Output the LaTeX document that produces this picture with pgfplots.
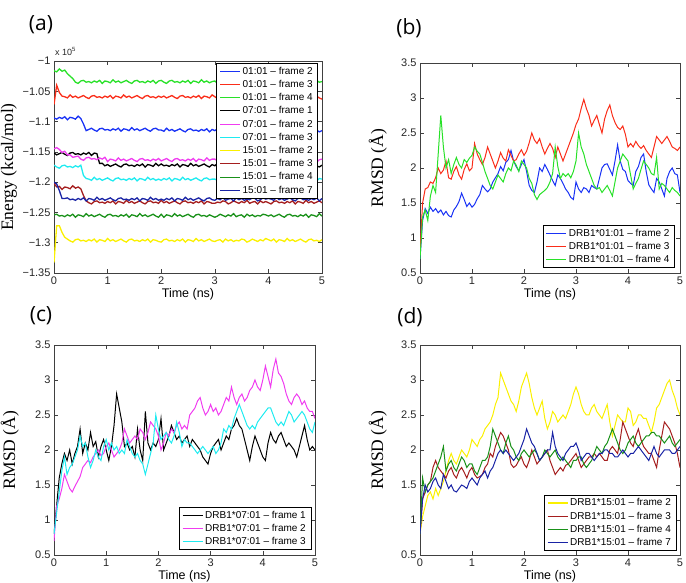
\documentclass[border=0pt]{standalone}
\usepackage{fontspec}
\setmainfont{Liberation Sans}
\newfontfamily\serifff{Liberation Serif}
\newfontfamily\panelfont{Open Sans}
\usepackage{pgfplots}
\usepackage{pgfplotstable}
\pgfplotsset{compat=1.18}

\definecolor{mblue}{RGB}{25,50,245}
\definecolor{mred}{RGB}{250,45,25}
\definecolor{mgreen}{RGB}{40,225,40}
\definecolor{mmag}{RGB}{240,60,240}
\definecolor{mcyan}{RGB}{30,235,240}
\definecolor{myellow}{RGB}{250,240,0}
\definecolor{mdred}{RGB}{165,30,30}
\definecolor{mdgreen}{RGB}{25,145,25}
\definecolor{mnavy}{RGB}{25,35,165}

\pgfplotstableread{
t A B C D E F G H I J
0.00 -1094 -1072 -1016 -1152 -1145 -1172 -1333 -1202 -1254 -1200
0.05 -1096 -1040 -1018 -1155 -1143 -1175 -1272 -1208 -1253 -1203
0.10 -1093 -1052 -1013 -1153 -1146 -1177 -1272 -1207 -1256 -1214
0.15 -1095 -1058 -1017 -1151 -1151 -1173 -1283 -1212 -1255 -1227
0.20 -1092 -1059 -1015 -1154 -1149 -1172 -1291 -1208 -1257 -1227
0.25 -1097 -1061 -1021 -1156 -1155 -1175 -1294 -1209 -1254 -1226
0.30 -1093 -1056 -1025 -1152 -1155 -1174 -1297 -1211 -1256 -1229
0.35 -1094 -1060 -1029 -1151 -1159 -1176 -1299 -1206 -1253 -1228
0.40 -1096 -1058 -1035 -1154 -1158 -1173 -1295 -1210 -1258 -1230
0.45 -1091 -1061 -1037 -1153 -1157 -1175 -1294 -1208 -1254 -1227
0.50 -1095 -1059 -1033 -1155 -1162 -1172 -1297 -1211 -1255 -1229
0.55 -1104 -1057 -1032 -1152 -1164 -1189 -1296 -1222 -1257 -1226
0.60 -1115 -1060 -1035 -1154 -1160 -1194 -1298 -1231 -1252 -1231
0.65 -1113 -1062 -1034 -1151 -1159 -1195 -1295 -1234 -1256 -1227
0.70 -1111 -1058 -1036 -1156 -1162 -1197 -1297 -1236 -1254 -1228
0.75 -1114 -1057 -1033 -1152 -1161 -1192 -1294 -1232 -1257 -1230
0.80 -1116 -1060 -1035 -1153 -1163 -1196 -1299 -1231 -1255 -1225
0.85 -1112 -1059 -1032 -1169 -1160 -1194 -1295 -1234 -1253 -1229
0.90 -1111 -1061 -1037 -1169 -1162 -1197 -1296 -1233 -1256 -1227
0.95 -1114 -1058 -1033 -1173 -1159 -1195 -1298 -1235 -1258 -1230
1.00 -1113 -1060 -1034 -1171 -1166 -1193 -1293 -1232 -1254 -1228
1.05 -1115 -1057 -1036 -1174 -1162 -1196 -1297 -1234 -1253 -1226
1.10 -1112 -1062 -1031 -1172 -1163 -1198 -1295 -1231 -1256 -1229
1.15 -1114 -1058 -1035 -1170 -1165 -1194 -1298 -1236 -1255 -1231
1.20 -1111 -1059 -1033 -1173 -1160 -1193 -1296 -1232 -1257 -1227
1.25 -1116 -1061 -1036 -1175 -1164 -1196 -1294 -1233 -1254 -1226
1.30 -1112 -1056 -1034 -1171 -1162 -1195 -1297 -1235 -1256 -1229
1.35 -1113 -1060 -1032 -1170 -1165 -1197 -1299 -1230 -1253 -1228
1.40 -1115 -1058 -1035 -1173 -1163 -1194 -1295 -1234 -1258 -1230
1.45 -1110 -1061 -1037 -1172 -1161 -1196 -1294 -1232 -1254 -1227
1.50 -1114 -1059 -1033 -1174 -1164 -1193 -1297 -1235 -1255 -1229
1.55 -1112 -1057 -1032 -1171 -1166 -1198 -1296 -1233 -1257 -1226
1.60 -1115 -1060 -1035 -1173 -1162 -1194 -1298 -1231 -1252 -1231
1.65 -1113 -1062 -1034 -1170 -1161 -1195 -1295 -1234 -1256 -1227
1.70 -1111 -1058 -1036 -1175 -1164 -1197 -1297 -1236 -1254 -1228
1.75 -1114 -1057 -1033 -1171 -1163 -1192 -1294 -1232 -1257 -1230
1.80 -1116 -1060 -1035 -1172 -1165 -1196 -1299 -1231 -1255 -1225
1.85 -1112 -1059 -1032 -1174 -1162 -1194 -1295 -1234 -1253 -1229
1.90 -1111 -1061 -1037 -1169 -1164 -1197 -1296 -1233 -1256 -1227
1.95 -1114 -1058 -1033 -1173 -1161 -1195 -1298 -1235 -1258 -1230
2.00 -1114 -1060 -1032 -1170 -1165 -1197 -1299 -1230 -1253 -1228
2.05 -1116 -1058 -1035 -1173 -1163 -1194 -1295 -1234 -1258 -1230
2.10 -1111 -1061 -1037 -1172 -1161 -1196 -1294 -1232 -1254 -1227
2.15 -1115 -1059 -1033 -1174 -1164 -1193 -1297 -1235 -1255 -1229
2.20 -1113 -1057 -1032 -1171 -1166 -1198 -1296 -1233 -1257 -1226
2.25 -1116 -1060 -1035 -1173 -1162 -1194 -1298 -1231 -1252 -1231
2.30 -1114 -1062 -1034 -1170 -1161 -1195 -1295 -1234 -1256 -1227
2.35 -1112 -1058 -1036 -1175 -1164 -1197 -1297 -1236 -1254 -1228
2.40 -1115 -1057 -1033 -1171 -1163 -1192 -1294 -1232 -1257 -1230
2.45 -1117 -1060 -1035 -1172 -1165 -1196 -1299 -1231 -1255 -1225
2.50 -1113 -1059 -1032 -1174 -1162 -1194 -1295 -1234 -1253 -1229
2.55 -1112 -1061 -1037 -1169 -1164 -1197 -1296 -1233 -1256 -1227
2.60 -1115 -1058 -1033 -1173 -1161 -1195 -1298 -1235 -1258 -1230
2.65 -1114 -1060 -1034 -1171 -1166 -1193 -1293 -1232 -1254 -1228
2.70 -1116 -1057 -1036 -1174 -1162 -1196 -1297 -1234 -1253 -1226
2.75 -1113 -1062 -1031 -1172 -1163 -1198 -1295 -1231 -1256 -1229
2.80 -1115 -1058 -1035 -1170 -1165 -1194 -1298 -1236 -1255 -1231
2.85 -1112 -1059 -1033 -1173 -1160 -1193 -1296 -1232 -1257 -1227
2.90 -1117 -1061 -1036 -1175 -1164 -1196 -1294 -1233 -1254 -1226
2.95 -1113 -1056 -1034 -1171 -1162 -1195 -1297 -1235 -1256 -1229
3.00 -1115 -1059 -1033 -1173 -1162 -1195 -1298 -1235 -1258 -1230
3.05 -1112 -1062 -1037 -1169 -1165 -1197 -1296 -1233 -1256 -1227
3.10 -1113 -1060 -1032 -1174 -1163 -1194 -1295 -1234 -1253 -1229
3.15 -1117 -1061 -1035 -1172 -1166 -1196 -1299 -1231 -1255 -1225
3.20 -1115 -1058 -1033 -1171 -1164 -1192 -1294 -1232 -1257 -1230
3.25 -1112 -1059 -1036 -1175 -1165 -1197 -1297 -1236 -1254 -1228
3.30 -1114 -1063 -1034 -1170 -1162 -1195 -1295 -1234 -1256 -1227
3.35 -1116 -1061 -1035 -1173 -1163 -1194 -1298 -1231 -1252 -1231
3.40 -1113 -1058 -1032 -1171 -1167 -1198 -1296 -1233 -1257 -1226
3.45 -1115 -1060 -1033 -1174 -1165 -1193 -1297 -1235 -1255 -1229
3.50 -1111 -1062 -1037 -1173 -1162 -1196 -1294 -1232 -1254 -1227
3.55 -1116 -1059 -1035 -1174 -1164 -1194 -1295 -1234 -1258 -1230
3.60 -1114 -1061 -1032 -1171 -1166 -1197 -1299 -1230 -1253 -1228
3.65 -1113 -1057 -1034 -1172 -1163 -1195 -1297 -1235 -1256 -1229
3.70 -1117 -1062 -1036 -1176 -1165 -1196 -1294 -1233 -1254 -1226
3.75 -1112 -1060 -1033 -1174 -1161 -1193 -1296 -1232 -1257 -1227
3.80 -1115 -1059 -1035 -1171 -1166 -1194 -1298 -1236 -1255 -1231
3.85 -1113 -1063 -1031 -1173 -1164 -1198 -1295 -1231 -1256 -1229
3.90 -1116 -1058 -1036 -1175 -1163 -1196 -1297 -1234 -1253 -1226
3.95 -1114 -1061 -1034 -1172 -1167 -1193 -1293 -1232 -1254 -1228
4.00 -1115 -1063 -1034 -1171 -1162 -1195 -1295 -1234 -1256 -1227
4.05 -1113 -1059 -1036 -1176 -1165 -1197 -1297 -1236 -1254 -1228
4.10 -1116 -1058 -1033 -1172 -1164 -1192 -1294 -1232 -1257 -1230
4.15 -1118 -1061 -1035 -1173 -1166 -1196 -1299 -1231 -1255 -1225
4.20 -1114 -1060 -1032 -1175 -1163 -1194 -1295 -1234 -1253 -1229
4.25 -1113 -1062 -1037 -1170 -1165 -1197 -1296 -1233 -1256 -1227
4.30 -1116 -1059 -1033 -1174 -1162 -1195 -1298 -1235 -1258 -1230
4.35 -1115 -1061 -1034 -1172 -1167 -1193 -1293 -1232 -1254 -1228
4.40 -1117 -1058 -1036 -1175 -1163 -1196 -1297 -1234 -1253 -1226
4.45 -1114 -1063 -1031 -1173 -1164 -1198 -1295 -1231 -1256 -1229
4.50 -1116 -1059 -1035 -1172 -1166 -1194 -1298 -1236 -1255 -1231
4.55 -1113 -1060 -1033 -1175 -1161 -1193 -1296 -1232 -1257 -1227
4.60 -1118 -1062 -1036 -1177 -1165 -1196 -1294 -1233 -1254 -1226
4.65 -1114 -1057 -1034 -1173 -1163 -1195 -1297 -1235 -1256 -1229
4.70 -1115 -1061 -1032 -1172 -1166 -1197 -1299 -1230 -1253 -1228
4.75 -1117 -1059 -1035 -1175 -1164 -1194 -1295 -1234 -1258 -1230
4.80 -1112 -1062 -1037 -1174 -1162 -1196 -1294 -1232 -1254 -1227
4.85 -1116 -1060 -1033 -1176 -1165 -1193 -1297 -1235 -1255 -1229
4.90 -1114 -1058 -1032 -1173 -1167 -1198 -1296 -1233 -1257 -1226
4.95 -1117 -1061 -1035 -1175 -1163 -1194 -1298 -1231 -1252 -1231
5.00 -1115 -1063 -1034 -1172 -1162 -1195 -1295 -1234 -1256 -1227
}\tabE

\pgfplotstableread{
t blue red green
0.00 0.70 0.80 0.70
0.05 1.25 1.50 1.30
0.10 1.42 1.70 1.40
0.15 1.35 1.72 1.25
0.20 1.44 1.80 1.60
0.25 1.38 1.78 1.75
0.30 1.42 1.86 1.65
0.35 1.36 2.00 2.20
0.40 1.40 1.92 2.75
0.45 1.33 1.97 2.30
0.50 1.38 2.10 2.00
0.55 1.32 1.86 2.12
0.60 1.30 1.84 1.92
0.65 1.40 1.95 2.05
0.70 1.45 2.02 2.15
0.75 1.52 1.90 2.05
0.80 1.64 1.84 2.00
0.85 1.55 1.98 2.12
0.90 1.45 2.06 2.08
0.95 1.50 1.96 2.14
1.00 1.44 2.00 2.18
1.05 1.48 2.35 2.30
1.10 1.56 2.20 2.24
1.15 1.62 2.12 2.20
1.20 1.75 2.05 2.08
1.25 1.70 2.15 1.95
1.30 1.66 2.30 1.85
1.35 1.70 2.20 1.75
1.40 1.80 2.10 1.70
1.45 1.86 2.00 1.80
1.50 1.92 2.10 1.90
1.55 2.02 2.22 1.85
1.60 1.96 2.14 1.80
1.65 2.08 2.10 1.92
1.70 2.12 2.26 2.00
1.75 2.25 2.18 1.96
1.80 2.10 2.10 2.10
1.85 2.02 2.12 2.04
1.90 1.96 2.20 1.95
1.95 2.05 2.26 2.10
2.00 2.12 2.18 2.05
2.05 1.95 2.24 2.00
2.10 1.75 2.36 1.85
2.15 1.68 2.50 1.78
2.20 1.65 2.40 1.62
2.25 1.80 2.35 1.55
2.30 2.00 2.42 1.62
2.35 1.95 2.30 1.65
2.40 2.05 2.20 1.68
2.45 1.98 2.28 1.72
2.50 1.90 2.35 1.80
2.55 1.82 2.28 1.92
2.60 1.75 2.15 2.30
2.65 1.90 2.30 2.02
2.70 1.85 2.20 1.85
2.75 1.78 2.10 1.92
2.80 1.70 2.20 1.88
2.85 1.65 2.30 1.92
2.90 1.58 2.40 1.86
2.95 1.55 2.50 1.95
3.00 1.80 2.62 2.10
3.05 1.70 2.70 2.50
3.10 1.65 2.85 2.30
3.15 1.72 2.98 2.20
3.20 1.70 2.85 2.05
3.25 1.65 2.75 1.95
3.30 1.75 2.60 1.85
3.35 1.72 2.68 1.75
3.40 1.70 2.75 1.70
3.45 1.85 2.62 1.72
3.50 2.00 2.50 1.65
3.55 2.05 2.70 1.70
3.60 2.06 2.82 1.75
3.65 1.98 2.90 1.68
3.70 1.90 2.75 1.60
3.75 2.10 2.65 1.80
3.80 2.33 2.58 2.00
3.85 2.10 2.55 2.10
3.90 1.98 2.60 2.20
3.95 1.95 2.48 2.15
4.00 1.82 2.30 2.10
4.05 1.78 2.35 1.90
4.10 1.75 2.30 1.70
4.15 1.95 2.38 1.78
4.20 2.02 2.32 1.85
4.25 2.15 2.28 1.98
4.30 2.20 2.32 2.10
4.35 1.95 2.25 2.05
4.40 1.76 2.20 2.00
4.45 1.70 2.15 1.92
4.50 1.65 2.30 1.90
4.55 1.85 2.45 2.15
4.60 1.80 2.40 1.70
4.65 1.70 2.35 1.78
4.70 1.60 2.40 1.75
4.75 1.85 2.45 1.70
4.80 1.95 2.38 1.65
4.85 2.00 2.30 1.72
4.90 1.92 2.28 1.68
4.95 1.90 2.25 1.65
5.00 1.65 2.30 1.60
}\tabB

\pgfplotstableread{
t black mag cyan
0.00 0.80 0.70 0.80
0.05 1.20 1.20 1.10
0.10 1.60 1.30 1.40
0.15 1.80 1.45 1.70
0.20 1.95 1.65 1.90
0.25 1.85 1.55 1.65
0.30 2.00 1.45 1.75
0.35 1.80 1.40 1.80
0.40 1.95 1.48 1.90
0.45 2.05 1.55 2.00
0.50 2.30 1.62 2.20
0.55 1.95 1.75 2.05
0.60 2.10 1.80 2.10
0.65 2.00 1.85 1.90
0.70 2.25 1.82 1.75
0.75 2.05 1.90 1.85
0.80 2.12 1.95 2.00
0.85 1.90 2.00 1.90
0.90 2.05 1.92 1.85
0.95 2.15 1.95 2.05
1.00 2.00 2.05 2.15
1.05 1.85 2.10 2.00
1.10 2.05 2.00 2.10
1.15 2.35 1.90 2.00
1.20 2.80 1.95 2.05
1.25 2.60 2.00 1.95
1.30 2.40 2.10 2.00
1.35 2.05 2.30 1.95
1.40 2.10 2.20 2.15
1.45 2.00 2.10 2.05
1.50 2.05 2.15 1.95
1.55 1.90 2.20 1.90
1.60 2.30 2.15 1.95
1.65 2.00 2.30 1.85
1.70 1.85 2.25 1.80
1.75 2.55 2.15 1.65
1.80 2.10 2.25 1.80
1.85 2.00 2.40 1.95
1.90 2.10 2.35 2.10
1.95 2.05 2.30 2.50
2.00 2.15 2.20 2.30
2.05 2.45 2.00 2.15
2.10 2.00 2.10 2.20
2.15 2.10 2.25 2.25
2.20 2.20 2.20 2.15
2.25 2.35 2.30 2.10
2.30 2.25 2.25 2.20
2.35 2.15 2.35 2.40
2.40 2.20 2.40 2.25
2.45 2.10 2.30 2.05
2.50 2.15 2.35 2.15
2.55 2.20 2.30 2.10
2.60 2.05 2.50 2.10
2.65 2.15 2.55 2.05
2.70 2.10 2.60 2.00
2.75 2.05 2.70 1.95
2.80 2.00 2.75 2.00
2.85 1.90 2.60 2.05
2.90 1.85 2.50 2.00
2.95 1.80 2.55 1.95
3.00 1.95 2.65 2.00
3.05 2.05 2.55 2.05
3.10 2.10 2.60 1.95
3.15 2.15 2.50 2.00
3.20 2.00 2.55 2.10
3.25 2.10 2.65 2.30
3.30 2.20 2.75 2.25
3.35 2.15 2.70 2.35
3.40 2.30 2.90 2.30
3.45 2.35 2.75 2.45
3.50 2.45 2.65 2.55
3.55 2.35 2.75 2.65
3.60 2.30 2.80 2.55
3.65 2.15 2.70 2.45
3.70 2.00 2.75 2.35
3.75 1.85 2.85 2.30
3.80 2.05 2.90 2.35
3.85 2.20 3.00 2.30
3.90 2.10 2.90 2.40
3.95 2.00 2.85 2.45
4.00 1.90 3.00 2.50
4.05 1.85 3.20 2.55
4.10 2.10 3.05 2.60
4.15 2.25 2.90 2.60
4.20 2.15 3.15 2.50
4.25 2.10 3.30 2.40
4.30 2.20 3.10 2.35
4.35 2.25 3.05 2.40
4.40 2.15 2.95 2.35
4.45 2.05 2.80 2.45
4.50 2.10 2.70 2.55
4.55 2.05 2.65 2.50
4.60 2.00 2.75 2.40
4.65 1.90 2.80 2.45
4.70 2.05 2.75 2.50
4.75 2.20 2.65 2.55
4.80 2.35 2.70 2.50
4.85 2.15 2.60 2.40
4.90 2.00 2.55 2.30
4.95 2.05 2.55 2.25
5.00 2.00 2.45 2.40
}\tabC

\pgfplotstableread{
t yel dred grn navy
0.00 0.80 0.80 0.80 0.80
0.05 1.05 1.30 1.60 1.30
0.10 1.20 1.40 1.40 1.50
0.15 1.35 1.50 1.50 1.40
0.20 1.40 1.55 1.55 1.45
0.25 1.30 1.75 1.60 1.55
0.30 1.45 1.85 1.70 1.60
0.35 1.35 1.75 1.80 1.50
0.40 1.45 1.70 1.90 1.45
0.45 1.55 1.65 2.05 1.65
0.50 1.70 1.60 1.70 1.55
0.55 1.85 1.70 1.80 1.45
0.60 1.95 1.75 1.85 1.50
0.65 1.85 1.65 1.75 1.42
0.70 1.80 1.60 1.70 1.40
0.75 1.90 1.70 1.80 1.45
0.80 2.00 1.75 1.90 1.50
0.85 1.95 1.68 1.85 1.48
0.90 1.90 1.60 1.75 1.45
0.95 2.00 1.70 1.80 1.55
1.00 2.15 1.75 1.80 1.60
1.05 2.10 1.65 1.70 1.55
1.10 2.05 1.60 1.65 1.50
1.15 2.15 1.62 1.75 1.60
1.20 2.20 1.65 1.85 1.65
1.25 2.30 1.75 1.85 1.70
1.30 2.35 1.80 1.90 1.60
1.35 2.40 1.95 2.05 1.70
1.40 2.50 1.90 2.30 1.75
1.45 2.65 2.05 2.20 1.85
1.50 2.75 2.15 2.10 1.95
1.55 3.10 2.25 2.00 2.00
1.60 3.00 2.20 1.95 1.95
1.65 2.90 2.10 2.10 2.00
1.70 2.80 2.00 2.20 1.95
1.75 2.70 1.80 2.05 1.90
1.80 2.65 1.75 2.00 1.85
1.85 2.55 1.78 1.90 1.90
1.90 2.70 1.85 1.85 1.95
1.95 2.90 1.90 1.95 2.05
2.00 3.00 1.80 2.00 2.15
2.05 3.10 1.75 1.95 2.30
2.10 2.95 1.85 1.90 2.20
2.15 2.75 2.00 1.95 2.10
2.20 2.60 1.90 2.00 2.05
2.25 2.50 1.80 1.95 1.95
2.30 2.60 1.85 1.85 1.85
2.35 2.70 1.90 1.90 1.90
2.40 2.45 1.95 2.00 1.95
2.45 2.30 2.00 1.95 2.00
2.50 2.40 1.85 1.90 2.00
2.55 2.55 1.75 1.95 2.25
2.60 2.50 1.65 2.00 2.05
2.65 2.40 1.70 1.90 1.95
2.70 2.45 1.75 1.85 1.90
2.75 2.50 1.70 1.90 1.85
2.80 2.45 1.78 1.85 1.95
2.85 2.55 1.80 1.80 2.00
2.90 2.65 1.85 1.75 2.05
2.95 2.80 1.90 1.85 2.05
3.00 2.90 1.95 1.85 2.10
3.05 2.80 1.85 1.90 2.00
3.10 2.65 1.75 1.90 1.85
3.15 2.55 1.80 1.80 1.90
3.20 2.50 1.85 1.75 1.95
3.25 2.50 1.90 1.80 1.95
3.30 2.60 1.90 1.85 1.90
3.35 2.65 1.95 1.95 1.85
3.40 2.55 1.90 2.05 1.90
3.45 2.50 1.95 2.00 1.95
3.50 2.45 1.90 1.95 1.95
3.55 2.55 1.85 2.05 2.00
3.60 2.65 1.85 2.10 2.00
3.65 2.40 2.00 2.20 1.95
3.70 2.20 2.05 2.30 1.95
3.75 2.35 2.00 2.20 1.90
3.80 2.50 1.95 2.10 1.90
3.85 2.45 2.15 2.00 1.95
3.90 2.40 2.40 1.95 2.00
3.95 2.40 2.30 2.00 1.95
4.00 2.60 2.20 2.10 1.90
4.05 2.55 2.10 2.15 1.95
4.10 2.35 2.05 2.20 1.95
4.15 2.40 2.20 2.10 2.00
4.20 2.50 2.30 2.05 2.05
4.25 2.50 2.15 2.10 2.00
4.30 2.45 2.05 2.15 1.95
4.35 2.45 2.00 2.20 1.90
4.40 2.35 1.95 2.20 1.85
4.45 2.25 1.95 2.25 1.95
4.50 2.40 1.85 2.25 2.05
4.55 2.60 1.75 2.20 1.95
4.60 2.65 2.00 2.20 1.90
4.65 2.75 2.20 2.15 1.95
4.70 2.85 2.40 2.10 2.00
4.75 2.95 2.35 2.15 2.00
4.80 3.00 2.30 2.20 2.00
4.85 2.85 2.20 2.10 1.95
4.90 2.75 2.10 2.05 1.95
4.95 2.60 1.95 2.10 2.00
5.00 2.50 1.75 2.15 2.05
}\tabD

\pgfplotsset{
  panel/.style={
    scale only axis,
    anchor=south west,
    xmin=0, xmax=5,
    xtick={0,1,2,3,4,5}, xticklabels={0,1,2,3,4,5},
    tick align=inside,
    major tick length=4pt,
    axis line style={line width=0.5pt, black!75},
    every tick/.style={black!75, line width=0.5pt},
    tick label style={font=\fontsize{11}{13}\selectfont, text=black!85},
    xlabel={Time (ns)},
    xlabel style={font=\fontsize{12.5}{14}\selectfont, at={(axis description cs:0.5,0)}, anchor=north, inner sep=0pt, yshift=-15pt},
    ylabel style={font=\serifff\fontsize{17.5}{20}\selectfont, anchor=center},
    legend style={draw=black, fill=white, line width=0.5pt, font=\fontsize{10}{12}\selectfont, inner xsep=3pt, inner ysep=1.5pt, row sep=0.5pt, cells={anchor=west}},
    legend image code/.code={\draw[#1, line width=1.1pt] (0pt,0pt) -- (20pt,0pt);},
    every axis plot/.append style={line width=1.0pt},
  },
  rmsd/.style={
    ymin=0.5, ymax=3.5,
    ytick={0.5,1,1.5,2,2.5,3,3.5}, yticklabels={0.5,1,1.5,2,2.5,3,3.5},
    ylabel={RMSD (Å)},
  }
}

\begin{document}
\begin{tikzpicture}
\useasboundingbox (0pt,0pt) rectangle (686pt,583pt);

% (a)
\begin{axis}[panel, at={(54pt,310pt)}, width=268pt, height=212pt,
  ymin=-1350, ymax=-1000,
  ytick={-1350,-1300,-1250,-1200,-1150,-1100,-1050,-1000},
  yticklabels={−1.35,−1.3,−1.25,−1.2,−1.15,−1.1,−1.05,−1},
  ylabel={Energy (kcal/mol)},
  ylabel style={at={(axis description cs:-0.168,0.5)}},
  legend style={at={(0.985,0.99)}, anchor=north east},
  every axis plot/.append style={line width=1.3pt}]
\addplot[mblue] table[x=t,y=A]{\tabE};
\addplot[mred] table[x=t,y=B]{\tabE};
\addplot[mgreen] table[x=t,y=C]{\tabE};
\addplot[black] table[x=t,y=D]{\tabE};
\addplot[mmag] table[x=t,y=E]{\tabE};
\addplot[mcyan] table[x=t,y=F]{\tabE};
\addplot[myellow] table[x=t,y=G]{\tabE};
\addplot[mdred] table[x=t,y=H]{\tabE};
\addplot[mdgreen] table[x=t,y=I]{\tabE};
\addplot[mnavy] table[x=t,y=J]{\tabE};
\legend{01:01 – frame 2, 01:01 – frame 3, 01:01 – frame 4, 07:01 – frame 1, 07:01 – frame 2, 07:01 – frame 3, 15:01 – frame 2, 15:01 – frame 3, 15:01 – frame 4, 15:01 – frame 7}
\end{axis}

% (b)
\begin{axis}[panel, rmsd, at={(420pt,310pt)}, width=260pt, height=210pt,
  ylabel style={at={(axis description cs:-0.162,0.5)}},
  legend style={at={(0.98,0.024)}, anchor=south east}]
\addplot[mblue] table[x=t,y=blue]{\tabB};
\addplot[mred] table[x=t,y=red]{\tabB};
\addplot[mgreen] table[x=t,y=green]{\tabB};
\legend{DRB1*01:01 – frame 2, DRB1*01:01 – frame 3, DRB1*01:01 – frame 4}
\end{axis}

% (c)
\begin{axis}[panel, rmsd, at={(54pt,28pt)}, width=261pt, height=210pt,
  ylabel style={at={(axis description cs:-0.169,0.5)}},
  legend style={at={(0.985,0.024)}, anchor=south east}]
\addplot[black] table[x=t,y=black]{\tabC};
\addplot[mmag] table[x=t,y=mag]{\tabC};
\addplot[mcyan] table[x=t,y=cyan]{\tabC};
\legend{DRB1*07:01 – frame 1, DRB1*07:01 – frame 2, DRB1*07:01 – frame 3}
\end{axis}

% (d)
\begin{axis}[panel, rmsd, at={(420pt,28pt)}, width=260pt, height=210pt,
  ylabel style={at={(axis description cs:-0.162,0.5)}},
  legend style={at={(0.985,0.02)}, anchor=south east}]
\addplot[myellow] table[x=t,y=yel]{\tabD};
\addplot[mdred] table[x=t,y=dred]{\tabD};
\addplot[mdgreen] table[x=t,y=grn]{\tabD};
\addplot[mnavy] table[x=t,y=navy]{\tabD};
\legend{DRB1*15:01 – frame 2, DRB1*15:01 – frame 3, DRB1*15:01 – frame 4, DRB1*15:01 – frame 7}
\end{axis}

\node[anchor=south west, inner sep=0pt, font=\fontsize{9}{10}\selectfont, text=black!85] at (55pt,527pt) {x 10\textsuperscript{5}};
\node[font=\panelfont\fontsize{21}{24}\selectfont] at (41pt,558pt) {(a)};
\node[font=\panelfont\fontsize{21}{24}\selectfont] at (409pt,555pt) {(b)};
\node[font=\panelfont\fontsize{21}{24}\selectfont] at (41pt,267pt) {(c)};
\node[font=\panelfont\fontsize{21}{24}\selectfont] at (410pt,266pt) {(d)};
\end{tikzpicture}
\end{document}
